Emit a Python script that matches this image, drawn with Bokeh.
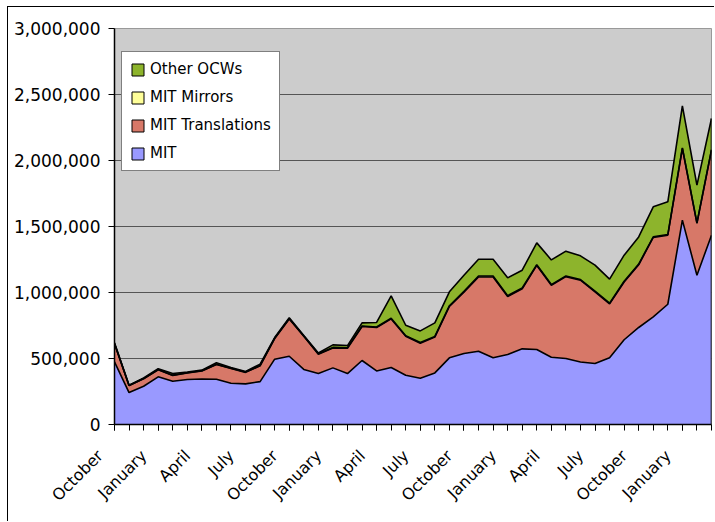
from bokeh.plotting import figure
from bokeh.models import (ColumnDataSource, Range1d, FixedTicker, NumeralTickFormatter,
                          Legend, LegendItem)
from bokeh.embed import file_html
from bokeh.resources import INLINE
import math

# ---- data (monthly, October through the following March, 42 months) ----
month_names = ["October", "November", "December", "January", "February", "March",
               "April", "May", "June", "July", "August", "September"]
n_months = 42
months = [month_names[i % 12] for i in range(n_months)]

mit = [474000, 242000, 290000, 361000, 328000, 341000, 345000, 343000, 313000, 308000,
       325000, 495000, 517000, 417000, 386000, 429000, 386000, 485000, 406000, 432000,
       373000, 351000, 391000, 505000, 538000, 555000, 505000, 530000, 573000, 568000,
       510000, 500000, 474000, 462000, 506000, 642000, 735000, 815000, 911000, 1548000,
       1131000, 1434000]
mit_translations = [138000, 53000, 56000, 54000, 44000, 49000, 60000, 112000, 111000, 87000,
                    120000, 156000, 283000, 251000, 147000, 151000, 192000, 257000, 329000, 368000,
                    295000, 265000, 271000, 389000, 465000, 562000, 612000, 440000, 455000, 637000,
                    545000, 620000, 619000, 543000, 408000, 438000, 475000, 602000, 523000, 543000,
                    392000, 644000]
mit_mirrors = [2000, 1000, 2000, 2000, 2000, 2000, 2000, 2000, 2000, 2000,
               2000, 3000, 3000, 3000, 3000, 4000, 4000, 4000, 4000, 5000,
               5000, 5000, 5000, 6000, 6000, 8000, 8000, 6000, 6000, 5000,
               5000, 5000, 5000, 5000, 5000, 5000, 5000, 5000, 5000, 5000,
               5000, 5000]
other_ocws = [6000, 2000, 4000, 5000, 12000, 6000, 5000, 11000, 6000, 5000,
              10000, 5000, 5000, 3000, 6000, 19000, 16000, 24000, 34000, 169000,
              79000, 88000, 103000, 105000, 122000, 127000, 127000, 135000, 135000, 166000,
              187000, 188000, 180000, 197000, 182000, 198000, 206000, 227000, 248000, 318000,
              285000, 235000]

series_names = ["MIT", "MIT Translations", "MIT Mirrors", "Other OCWs"]
series_colors = ["#9999FF", "#D77868", "#FFFF99", "#8DB42C"]

x = list(range(n_months))
source = ColumnDataSource(dict(x=x, mit=mit, trans=mit_translations,
                               mirrors=mit_mirrors, other=other_ocws))
stackers = ["mit", "trans", "mirrors", "other"]

p = figure(width=707, height=515, output_backend="svg", toolbar_location=None,
           x_range=Range1d(0, n_months - 1), y_range=Range1d(0, 3000000),
           min_border_left=106, min_border_right=4, min_border_top=21, min_border_bottom=98,
           styles={"margin-left": "7px", "margin-top": "6px",
                   "border-left": "1px solid black", "border-top": "1px solid black"})
p.background_fill_color = "#CCCCCC"
p.border_fill_color = "white"
p.outline_line_color = "#999999"
p.outline_line_width = 1

p.varea_stack(stackers, x="x", color=series_colors, source=source)
p.vline_stack(stackers, x="x", color="black", line_width=1.6, source=source)
totals = [a + b + c + d for a, b, c, d in zip(mit, mit_translations, mit_mirrors, other_ocws)]
p.segment(x0=[x[-1]], y0=[0], x1=[x[-1]], y1=[totals[-1]], line_color="black", line_width=1.6)

# grid
p.xgrid.visible = False
p.ygrid.grid_line_color = "#555555"
p.ygrid.grid_line_width = 1
p.ygrid.ticker = FixedTicker(ticks=list(range(0, 3000001, 500000)))

# y axis
p.yaxis.ticker = FixedTicker(ticks=list(range(0, 3000001, 500000)))
p.yaxis.formatter = NumeralTickFormatter(format="0,0")
p.yaxis.major_label_text_font = "DejaVu Sans"
p.yaxis.major_label_text_font_size = "17px"
p.yaxis.major_label_text_color = "black"
p.yaxis.axis_line_color = "black"
p.yaxis.axis_line_width = 1.5
p.yaxis.major_tick_out = 6
p.yaxis.major_tick_in = 0
p.yaxis.minor_tick_line_color = None
p.yaxis.major_label_standoff = 8

# x axis: ticks every month, month names every third month
label_ticks = list(range(0, n_months, 3))
p.xaxis.ticker = FixedTicker(ticks=label_ticks, minor_ticks=x)
# trailing no-break spaces push each slanted name a little further from its tick, as in the original
p.xaxis.major_label_overrides = {i: months[i] + "\u00a0" * 4 for i in label_ticks}
p.xaxis.major_label_orientation = math.pi / 4
p.xaxis.major_label_text_font = "DejaVu Sans"
p.xaxis.major_label_text_font_size = "16px"
p.xaxis.major_label_text_color = "black"
p.xaxis.axis_line_color = "black"
p.xaxis.axis_line_width = 1.5
p.xaxis.major_tick_out = 6
p.xaxis.major_tick_in = 0
p.xaxis.minor_tick_out = 6
p.xaxis.minor_tick_in = 0
p.xaxis.minor_tick_line_color = "black"
p.xaxis.major_label_standoff = 8

# legend (drawn with placeholder quads so that the swatches get black outlines)
items = []
for name, col in reversed(list(zip(series_names, series_colors))):
    r = p.quad(left=[float("nan")], right=[float("nan")], top=[float("nan")], bottom=[float("nan")],
               fill_color=col, line_color="black", line_width=1)
    items.append(LegendItem(label=name, renderers=[r]))
legend = Legend(items=items, location=(7, 253))
legend.label_text_font = "DejaVu Sans"
legend.label_text_font_size = "15px"
legend.label_text_color = "black"
legend.glyph_width = 15
legend.glyph_height = 15
legend.label_height = 15
legend.spacing = 10
legend.padding = 8
legend.label_standoff = 5
legend.border_line_color = "black"
legend.border_line_width = 1
legend.background_fill_color = "white"
legend.background_fill_alpha = 1
p.add_layout(legend)

open("out.html", "w").write(file_html(p, INLINE))
